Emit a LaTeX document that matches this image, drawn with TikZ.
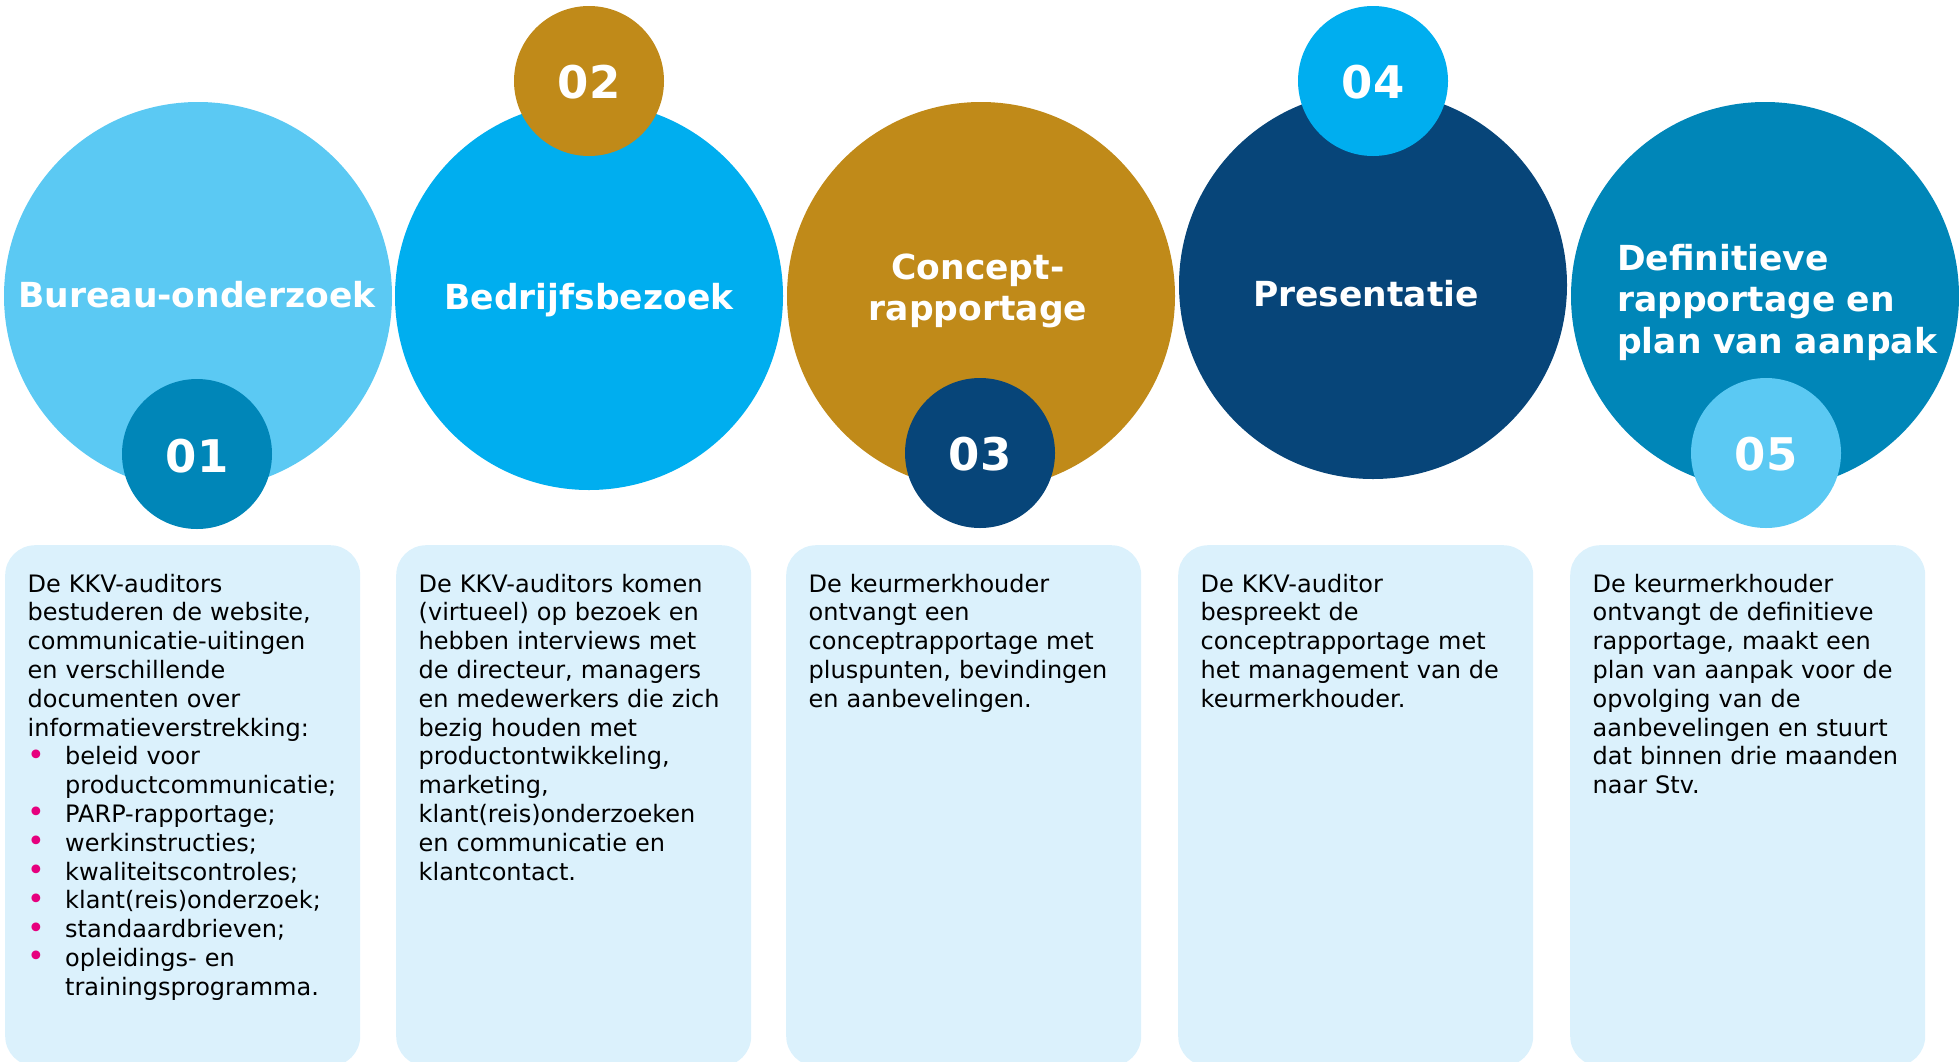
\documentclass[tikz,border=0pt]{standalone}
\usepackage{fontspec}
\setmainfont{DejaVu Sans}
\definecolor{clight}{HTML}{5BC9F3}
\definecolor{ccyan}{HTML}{00AEEF}
\definecolor{cgold}{HTML}{C08A19}
\definecolor{cnavy}{HTML}{074579}
\definecolor{cmid}{HTML}{0086B8}
\definecolor{cbox}{HTML}{DBF1FC}
\definecolor{cpink}{HTML}{E6007E}
\newcommand\pinkbul{\makebox[37.5pt][l]{\hspace{0pt}\textcolor{cpink}{\fontsize{30}{30}\selectfont\raisebox{-0.5pt}{•}}}}
\newcommand\bulindent{\hspace*{37.5pt}}
\begin{document}
\begin{tikzpicture}[x=1pt,y=-1pt,
  big/.style={circle, minimum size=388pt, inner sep=0pt, draw=none},
  small/.style={circle, minimum size=150pt, inner sep=0pt, draw=none},
  num/.style={text=white, font={\fontsize{45}{54}\selectfont\bfseries}, inner sep=0pt, anchor=base},
  title/.style={text=white, font={\fontsize{34.5}{41.5}\selectfont\bfseries}, inner sep=0pt},
  card/.style={fill=cbox, rounded corners=30pt, minimum width=355pt, minimum height=521pt, anchor=north west, inner sep=0pt},
  body/.style={font={\fontsize{24}{28.8}\selectfont}, text width=360pt, align=left, inner sep=0pt, anchor=base west, text=black}
]
\useasboundingbox (0,0) rectangle (1959,1061);

% big circles
\node[big, fill=clight] (c1) at (198,296) {};
\node[big, fill=ccyan]  (c2) at (589,296) {};
\node[big, fill=cgold]  (c3) at (981,296) {};
\node[big, fill=cnavy]  (c4) at (1373,285) {};
\node[big, fill=cmid]   (c5) at (1765,296) {};

% small number circles
\node[small, fill=cmid]   (n1) at (197,454) {};
\node[small, fill=cgold]  (n2) at (589,81) {};
\node[small, fill=cnavy]  (n3) at (980,453) {};
\node[small, fill=ccyan]  (n4) at (1373,81) {};
\node[small, fill=clight] (n5) at (1766,453) {};

\node[num] (d1) at (197,472) {01};
\node[num] (d2) at (589,98) {02};
\node[num] (d3) at (980,470) {03};
\node[num] (d4) at (1373,98) {04};
\node[num] (d5) at (1766,470) {05};

% titles
\node[title, anchor=base] (l1) at (197,307) {Bureau-onderzoek};
\node[title, anchor=base] (l2) at (589,309) {Bedrijfsbezoek};
\node[title, text width=400pt, align=center, anchor=base] (l3) at (978,279) {Concept-\\rapportage};
\node[title, anchor=base] (l4) at (1366,306) {Presentatie};
\node[title, text width=400pt, align=left, anchor=base west] (l5) at (1617,270) {Definitieve\\rapportage en\\plan van aanpak};

% cards
\node[card] (b1) at (5,545) {};
\node[card] (b2) at (396,545) {};
\node[card] (b3) at (786,545) {};
\node[card] (b4) at (1178,545) {};
\node[card] (b5) at (1570,545) {};

\node[body] (t1) at (27.5,592) {De KKV-auditors\\
bestuderen de website,\\
communicatie-uitingen\\
en verschillende\\
documenten over\\
informatieverstrekking:\\
\pinkbul beleid voor\\
\bulindent productcommunicatie;\\
\pinkbul PARP-rapportage;\\
\pinkbul werkinstructies;\\
\pinkbul kwaliteitscontroles;\\
\pinkbul klant(reis)onderzoek;\\
\pinkbul standaardbrieven;\\
\pinkbul opleidings- en\\
\bulindent trainingsprogramma.};

\node[body] (t2) at (418.5,592) {De KKV-auditors komen\\
(virtueel) op bezoek en\\
hebben interviews met\\
de directeur, managers\\
en medewerkers die zich\\
bezig houden met\\
productontwikkeling,\\
marketing,\\
klant(reis)onderzoeken\\
en communicatie en\\
klantcontact.};

\node[body] (t3) at (808.5,592) {De keurmerkhouder\\
ontvangt een\\
conceptrapportage met\\
pluspunten, bevindingen\\
en aanbevelingen.};

\node[body] (t4) at (1200.5,592) {De KKV-auditor\\
bespreekt de\\
conceptrapportage met\\
het management van de\\
keurmerkhouder.};

\node[body] (t5) at (1592.5,592) {De keurmerkhouder\\
ontvangt de definitieve\\
rapportage, maakt een\\
plan van aanpak voor de\\
opvolging van de\\
aanbevelingen en stuurt\\
dat binnen drie maanden\\
naar Stv.};
\end{tikzpicture}
\end{document}
